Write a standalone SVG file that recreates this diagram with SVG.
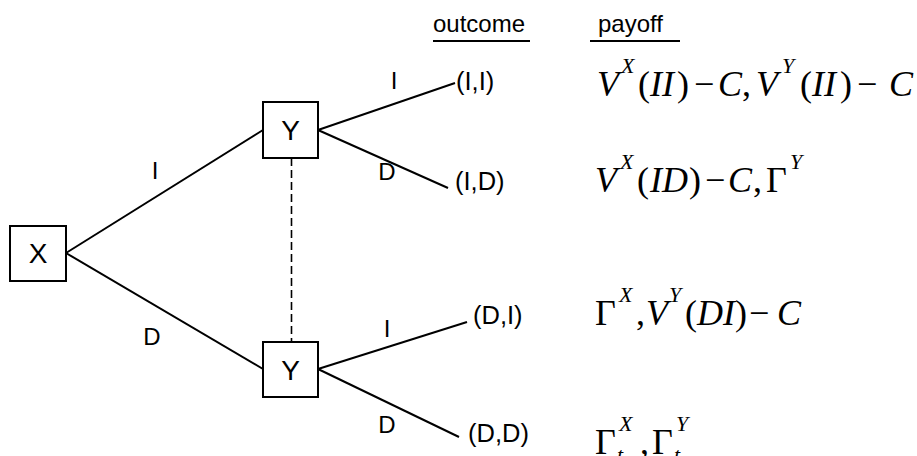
<svg xmlns="http://www.w3.org/2000/svg" width="917" height="456" viewBox="0 0 917 456">
<style>
.box{fill:#fff;stroke:#000;stroke-width:2}
.edge{stroke:#000;stroke-width:2;fill:none}
.dash{stroke:#000;stroke-width:1.6;stroke-dasharray:8 4;fill:none}
.nl{font-family:"Liberation Sans",Arial,sans-serif;font-size:28px;text-anchor:middle;fill:#000}
.lab{font-family:"Liberation Sans",Arial,sans-serif;font-size:24px;fill:#000}
.out{font-size:25.5px}
.c{text-anchor:middle}
.m{font-family:"Liberation Serif","Times New Roman",serif;font-size:36px;fill:#000}
.i{font-style:italic}
.s{font-size:22px;font-style:italic}
</style>
<rect width="917" height="456" fill="#fff"/>
<g id="connectors">
<line class="edge" x1="66" y1="253" x2="263" y2="130"/>
<line class="edge" x1="66" y1="253" x2="263" y2="369"/>
<line class="edge" x1="318" y1="130" x2="455" y2="83"/>
<line class="edge" x1="318" y1="130" x2="448" y2="188"/>
<line class="edge" x1="318" y1="369" x2="467" y2="322"/>
<line class="edge" x1="318" y1="369" x2="459" y2="437"/>
<line class="dash" x1="291.5" y1="158" x2="291.5" y2="342"/>
</g>
<g id="node-X">
<rect class="box" x="10" y="226" width="56" height="55"/>
<text class="nl" x="38" y="263">X</text>
</g>
<g id="node-Y-upper">
<rect class="box" x="263" y="102" width="55" height="56"/>
<text class="nl" x="290.5" y="140">Y</text>
</g>
<g id="node-Y-lower">
<rect class="box" x="263" y="342" width="55" height="55"/>
<text class="nl" x="290.5" y="380">Y</text>
</g>
<g id="branch-labels">
<text class="lab c" x="155" y="179">I</text>
<text class="lab c" x="152" y="345">D</text>
<text class="lab c" x="394" y="89">I</text>
<text class="lab c" x="387" y="180">D</text>
<text class="lab c" x="387" y="337">I</text>
<text class="lab c" x="387" y="433">D</text>
</g>
<g id="headers">
<text class="lab" x="433" y="32">outcome</text>
<line class="edge" x1="433" y1="41" x2="530" y2="41"/>
<text class="lab" x="598" y="32">payoff</text>
<line class="edge" x1="590" y1="41" x2="680" y2="41"/>
</g>
<g id="outcomes">
<text class="lab out" x="456" y="90">(I,I)</text>
<text class="lab out" x="455" y="190">(I,D)</text>
<text class="lab out" x="473" y="324">(D,I)</text>
<text class="lab out" x="468" y="442">(D,D)</text>
</g>
<g id="payoffs">
<text class="m"><tspan class="i" x="597" y="96">V</tspan><tspan class="s" x="621" y="73">X</tspan><tspan x="638" y="96">(</tspan><tspan class="i" x="650" y="96">II</tspan><tspan x="677" y="96">)</tspan><tspan x="694" y="96">−</tspan><tspan class="i" x="718" y="96">C</tspan><tspan x="742" y="96">,</tspan><tspan class="i" x="756" y="96">V</tspan><tspan class="s" x="782" y="73">Y</tspan><tspan x="800" y="96">(</tspan><tspan class="i" x="812" y="96">II</tspan><tspan x="840" y="96">)</tspan><tspan x="857" y="96">−</tspan><tspan class="i" x="889" y="96">C</tspan></text>
<text class="m"><tspan class="i" x="595" y="192">V</tspan><tspan class="s" x="620" y="169">X</tspan><tspan x="637" y="192">(</tspan><tspan class="i" x="650" y="192">ID</tspan><tspan x="689" y="192">)</tspan><tspan x="705" y="192">−</tspan><tspan class="i" x="728" y="192">C</tspan><tspan x="753" y="192">,</tspan><tspan x="766" y="192">Γ</tspan><tspan class="s" x="790" y="169">Y</tspan></text>
<text class="m"><tspan x="595" y="325">Γ</tspan><tspan class="s" x="619" y="302">X</tspan><tspan x="636" y="325">,</tspan><tspan class="i" x="646" y="325">V</tspan><tspan class="s" x="669" y="302">Y</tspan><tspan x="685" y="325">(</tspan><tspan class="i" x="697" y="325">DI</tspan><tspan x="735" y="325">)</tspan><tspan x="749" y="325">−</tspan><tspan class="i" x="777" y="325">C</tspan></text>
<text class="m"><tspan x="595" y="454">Γ</tspan><tspan class="s" x="619" y="431">X</tspan><tspan class="s" x="617" y="462">t</tspan><tspan x="640" y="454">,</tspan><tspan x="652" y="454">Γ</tspan><tspan class="s" x="676" y="431">Y</tspan><tspan class="s" x="674" y="462">t</tspan></text>
</g>
</svg>
